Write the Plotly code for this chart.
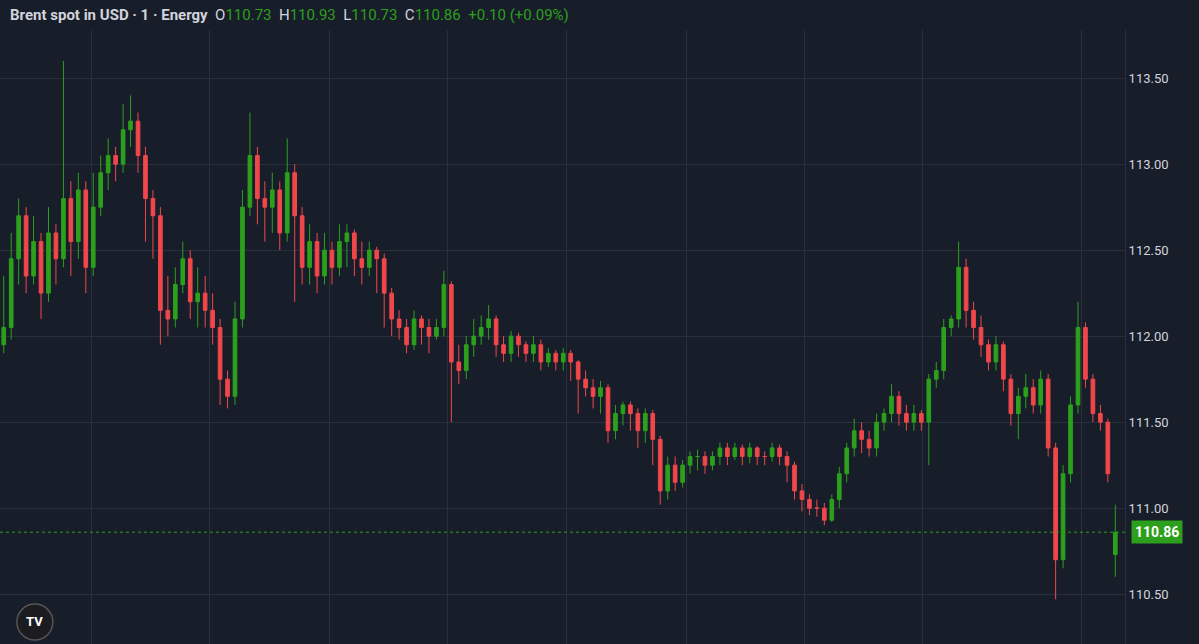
import plotly.graph_objects as go

closes = [112.05,112.45,112.70,112.35,112.55,112.25,112.60,112.45,112.80,112.55,
          112.85,112.40,112.75,112.95,113.05,113.00,113.20,113.25,113.05,112.80,
          112.70,112.15,112.10,112.30,112.45,112.20,112.25,112.15,112.05,111.75,
          111.65,112.10,112.75,113.05,112.80,112.75,112.85,112.60,112.95,112.70,
          112.40,112.55,112.35,112.50,112.40,112.55,112.60,112.45,112.40,112.50,
          112.45,112.25,112.10,112.05,111.95,112.10,112.05,112.00,112.05,112.30,
          111.85,111.80,111.95,112.00,112.05,112.10,111.95,111.90,112.00,111.95,
          111.90,111.95,111.85,111.90,111.85,111.90,111.85,111.75,111.70,111.65,
          111.70,111.45,111.55,111.60,111.55,111.45,111.55,111.40,111.10,111.25,
          111.15,111.25,111.30,111.30,111.25,111.30,111.35,111.30,111.35,111.30,
          111.35,111.30,111.30,111.35,111.30,111.25,111.10,111.05,111.00,111.00,
          110.93,111.05,111.20,111.35,111.45,111.40,111.35,111.50,111.55,111.65,
          111.55,111.50,111.55,111.50,111.75,111.80,112.05,112.10,112.40,112.15,
          112.05,111.95,111.85,111.95,111.75,111.55,111.65,111.70,111.60,111.75,
          111.35,110.70,111.20,111.60,112.05,111.75,111.55,111.50,111.20,110.86]
opens = [111.95,112.05,112.45,112.70,112.35,112.55,112.25,112.60,112.45,112.80,
         112.55,112.85,112.40,112.75,112.95,113.05,113.00,113.20,113.25,113.05,
         112.80,112.70,112.15,112.10,112.30,112.45,112.20,112.25,112.15,112.05,
         111.75,111.65,112.10,112.75,113.05,112.80,112.75,112.85,112.60,112.95,
         112.70,112.40,112.55,112.35,112.50,112.40,112.55,112.60,112.45,112.40,
         112.50,112.45,112.25,112.10,112.05,111.95,112.10,112.05,112.00,112.05,
         112.30,111.85,111.80,111.95,112.00,112.05,112.10,111.95,111.90,112.00,
         111.95,111.90,111.95,111.85,111.90,111.85,111.90,111.85,111.75,111.70,
         111.65,111.70,111.45,111.55,111.60,111.55,111.45,111.55,111.40,111.10,
         111.25,111.15,111.25,111.30,111.30,111.25,111.30,111.35,111.30,111.35,
         111.30,111.35,111.30,111.30,111.35,111.30,111.25,111.10,111.05,111.00,
         111.00,110.93,111.05,111.20,111.35,111.45,111.40,111.35,111.50,111.55,
         111.65,111.55,111.50,111.55,111.50,111.75,111.80,112.05,112.10,112.40,
         112.15,112.05,111.95,111.85,111.95,111.75,111.55,111.65,111.70,111.60,
         111.75,111.35,110.70,111.20,111.60,112.05,111.75,111.55,111.50,110.73]
highs = [112.35,112.60,112.80,112.75,112.70,112.60,112.75,112.65,113.60,112.90,
         112.95,112.90,112.95,113.05,113.15,113.10,113.35,113.40,113.30,113.10,
         112.85,112.75,112.35,112.40,112.55,112.50,112.40,112.35,112.25,112.10,
         111.80,112.20,112.85,113.30,113.10,112.90,112.95,112.90,113.15,113.00,
         112.75,112.65,112.60,112.60,112.55,112.65,112.65,112.62,112.55,112.55,
         112.52,112.48,112.28,112.15,112.10,112.15,112.12,112.10,112.10,112.38,
         112.32,111.95,112.00,112.10,112.12,112.18,112.12,112.00,112.03,112.02,
         111.97,112.00,111.98,111.93,111.92,111.93,111.92,111.86,111.80,111.75,
         111.74,111.72,111.60,111.62,111.62,111.58,111.58,111.57,111.42,111.30,
         111.30,111.28,111.33,111.34,111.33,111.33,111.38,111.38,111.38,111.37,
         111.38,111.36,111.33,111.38,111.37,111.33,111.27,111.14,111.08,111.05,
         111.03,111.08,111.24,111.38,111.52,111.50,111.45,111.55,111.58,111.72,
         111.68,111.60,111.60,111.57,111.78,111.85,112.10,112.12,112.55,112.45,
         112.20,112.12,111.98,112.00,111.97,111.78,111.70,111.78,111.75,111.80,
         111.78,111.38,111.25,111.65,112.20,112.08,111.78,111.60,111.52,111.02]
lows = [111.90,111.98,112.30,112.25,112.30,112.10,112.20,112.30,112.40,112.35,
        112.45,112.25,112.35,112.70,112.85,112.90,112.95,113.10,112.95,112.55,
        112.45,111.95,112.00,112.05,112.25,112.10,112.05,112.05,111.95,111.60,
        111.58,111.60,112.05,112.70,112.65,112.55,112.60,112.50,112.55,112.20,
        112.30,112.30,112.25,112.30,112.30,112.35,112.40,112.35,112.30,112.35,
        112.25,112.05,112.00,111.98,111.90,111.92,111.95,111.90,111.98,112.00,
        111.50,111.72,111.75,111.88,111.95,111.98,111.88,111.85,111.85,111.88,
        111.85,111.85,111.80,111.82,111.80,111.80,111.74,111.55,111.65,111.58,
        111.55,111.38,111.40,111.48,111.45,111.35,111.38,111.25,111.02,111.05,
        111.10,111.12,111.20,111.22,111.20,111.22,111.25,111.25,111.28,111.25,
        111.26,111.25,111.25,111.27,111.25,111.15,111.05,110.98,110.96,110.95,
        110.90,110.92,111.00,111.15,111.30,111.32,111.30,111.30,111.45,111.50,
        111.48,111.45,111.45,111.45,111.25,111.70,111.75,112.00,112.05,112.05,
        111.98,111.88,111.80,111.80,111.68,111.48,111.40,111.58,111.55,111.55,
        111.30,110.47,110.65,111.15,111.55,111.70,111.50,111.45,111.15,110.60]
grid_x = [11.7, 27.6, 43.6, 59.5, 75.4, 91.5, 107.3, 123.1, 144.5]
price_ticks = [110.5, 111.0, 111.5, 112.0, 112.5, 113.0, 113.5]
last_price = 110.86

GREEN = "#2ca01c"
RED = "#f0474b"
BG = "#181d2a"
GRID = "#2a2f3c"

fig = go.Figure(go.Candlestick(
    x=list(range(len(closes))), open=opens, high=highs, low=lows, close=closes,
    increasing=dict(line=dict(color=GREEN, width=1), fillcolor=GREEN),
    decreasing=dict(line=dict(color=RED, width=1), fillcolor=RED),
    whiskerwidth=0, hoverinfo="skip"))

fig.add_hline(y=last_price, line=dict(color=GREEN, width=1, dash="dot"))

fig.update_layout(
    width=1199, height=644, paper_bgcolor=BG, plot_bgcolor=BG,
    margin=dict(l=0, r=74, t=30, b=0), showlegend=False,
    font=dict(family="Roboto, DejaVu Sans", color="#d1d4dc", size=13),
    xaxis=dict(range=[-0.5, 150.3], rangeslider=dict(visible=False),
               tickvals=grid_x, showticklabels=False, showgrid=True,
               gridcolor=GRID, zeroline=False, showline=False),
    yaxis=dict(side="right", range=[110.21, 113.78], tickvals=price_ticks,
               ticktext=[f"{v:.2f}" for v in price_ticks], showgrid=True,
               gridcolor=GRID, zeroline=False, ticks="", showline=True,
               linecolor="#2a2f3c", tickfont=dict(size=13, color="#d1d4dc")),
)

g = GREEN
title = ("<b>Brent spot in USD · 1 · Energy</b>  "
         f"O<span style='color:{g}'>110.73</span>  H<span style='color:{g}'>110.93</span>  "
         f"L<span style='color:{g}'>110.73</span>  C<span style='color:{g}'>110.86</span>  "
         f"<span style='color:{g}'>+0.10 (+0.09%)</span>")
fig.add_annotation(text=title, xref="paper", yref="paper", x=0, y=1, xanchor="left",
                   yanchor="bottom", yshift=4, xshift=8, showarrow=False,
                   font=dict(size=15, color="#d1d4dc"))
fig.add_annotation(text=f"<b>{last_price:.2f}</b>", xref="paper", yref="y", x=1,
                   y=last_price, xanchor="left", xshift=6, showarrow=False,
                   bgcolor=GREEN, font=dict(size=14, color="white"), borderpad=3)
fig.add_shape(type="circle", xref="paper", yref="paper", x0=0.015, x1=0.047,
              y0=0.0065, y1=0.065, fillcolor="#1c1c20",
              line=dict(width=1.5, color="#555555"))
fig.add_annotation(text="<b>TV</b>", xref="paper", yref="paper", x=0.031, y=0.036,
                   xanchor="center", yanchor="middle",
                   showarrow=False, font=dict(size=13, color="white"))

fig.write_html("out.html", config={"displayModeBar": False})
with open("out.html", encoding="utf-8") as f:
    html = f.read()
html = html.replace("<body>", "<body style=\"margin:0;background:#181d2a\">", 1)
with open("out.html", "w", encoding="utf-8") as f:
    f.write(html)
